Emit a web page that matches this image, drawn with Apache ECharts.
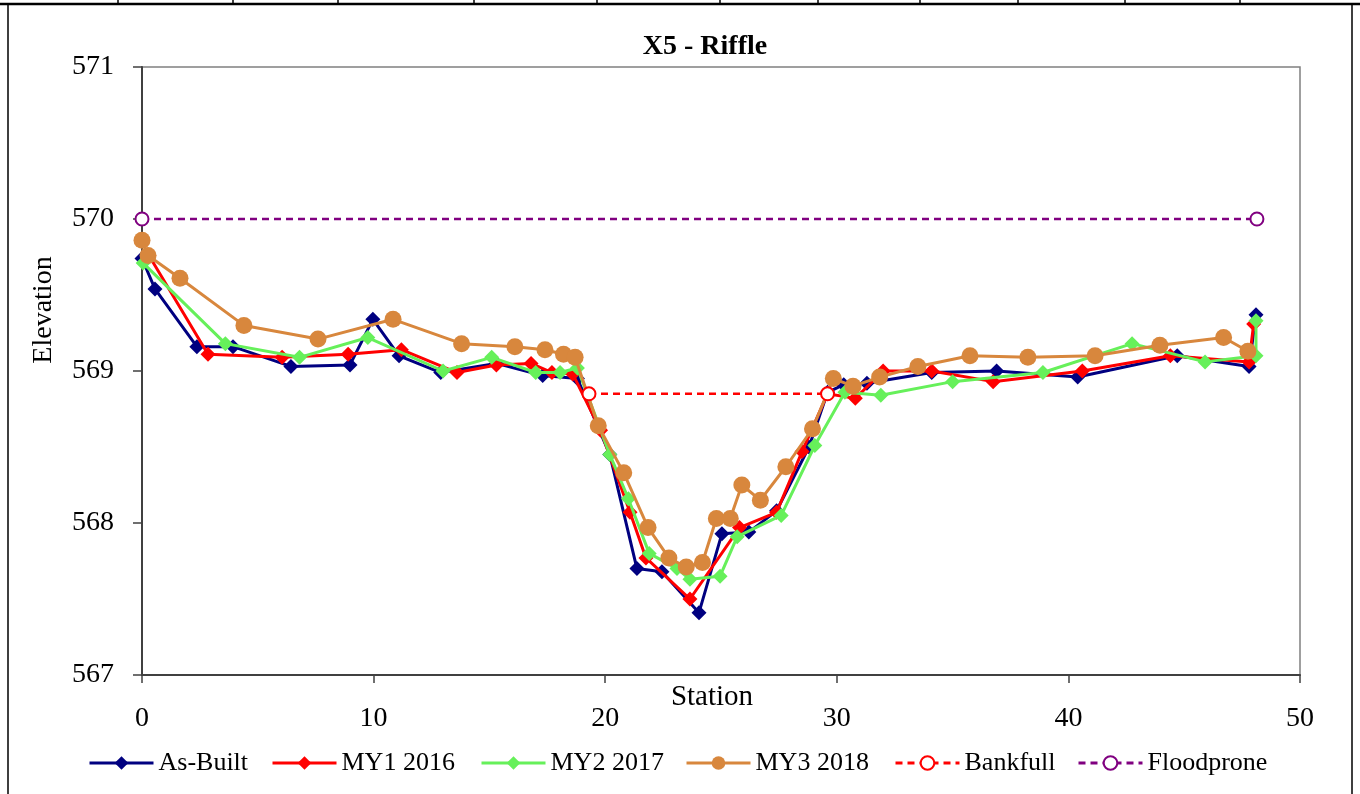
<!DOCTYPE html>
<html>
<head>
<meta charset="utf-8">
<title>X5 - Riffle</title>
<script src="https://cdn.jsdelivr.net/npm/echarts@6/dist/echarts.min.js"></script>
<style>
  html, body { margin: 0; padding: 0; background: #fff; }
  #chart { width: 1360px; height: 794px; }
</style>
</head>
<body>
<div id="chart"></div>
<script>
// cross section survey data (station / elevation)
var asBuiltStation = [0, 0.56, 2.37, 3.93, 6.43, 8.98, 9.97, 11.1, 12.9, 15.3, 17.3, 18.8, 20.2, 21.37, 22.45, 24.05, 25.04, 26.2, 27.4, 28.8, 29.6, 30.3, 31.3, 34.1, 36.9, 40.4, 44.7, 47.8, 48.1];
var asBuiltElev = [569.74, 569.54, 569.16, 569.16, 569.03, 569.04, 569.34, 569.1, 568.99, 569.05, 568.97, 568.95, 568.45, 567.70, 567.68, 567.41, 567.93, 567.94, 568.08, 568.5, 568.86, 568.91, 568.92, 568.99, 569.0, 568.96, 569.1, 569.03, 569.37];

var my1Station = [0.3, 2.85, 6.05, 8.9, 11.2, 13.6, 15.3, 16.8, 17.7, 18.6, 19.8, 21.07, 21.76, 23.66, 25.8, 27.4, 28.5, 29.6, 30.8, 32.0, 34.1, 36.75, 40.6, 44.4, 47.8, 48.0];
var my1Elev = [569.76, 569.11, 569.09, 569.11, 569.14, 568.99, 569.04, 569.05, 568.99, 568.98, 568.61, 568.07, 567.77, 567.50, 567.97, 568.07, 568.47, 568.85, 568.82, 569.0, 569.0, 568.93, 569.0, 569.1, 569.06, 569.31];

var my2Station = [0.05, 3.6, 6.8, 9.75, 13.0, 15.1, 17.0, 18.05, 18.8, 20.2, 21.0, 21.9, 23.1, 23.66, 24.96, 25.7, 27.6, 29.05, 30.35, 31.9, 35.0, 38.9, 42.75, 45.9, 48.1, 48.1];
var my2Elev = [569.71, 569.18, 569.09, 569.22, 569.0, 569.09, 568.99, 568.99, 569.02, 568.45, 568.16, 567.80, 567.70, 567.63, 567.65, 567.91, 568.05, 568.51, 568.86, 568.84, 568.93, 568.99, 569.18, 569.06, 569.1, 569.33];

var my3Station = [0, 0.26, 1.64, 4.4, 7.6, 10.84, 13.8, 16.1, 17.4, 18.2, 18.7, 19.7, 20.8, 21.85, 22.75, 23.5, 24.2, 24.8, 25.4, 25.9, 26.7, 27.8, 28.95, 29.85, 30.7, 31.85, 33.5, 35.75, 38.25, 41.15, 43.95, 46.7, 47.75];
var my3Elev = [569.86, 569.76, 569.61, 569.30, 569.21, 569.34, 569.18, 569.16, 569.14, 569.11, 569.09, 568.64, 568.33, 567.97, 567.77, 567.71, 567.74, 568.03, 568.03, 568.25, 568.15, 568.37, 568.62, 568.95, 568.9, 568.96, 569.03, 569.1, 569.09, 569.1, 569.17, 569.22, 569.13];

var bankfullStation = [19.3, 29.6];
var bankfullElev = [568.85, 568.85];

var floodproneStation = [0, 48.14];
var floodproneElev = [570, 570];

var seriesNames = ['As-Built', 'MY1 2016', 'MY2 2017', 'MY3 2018', 'Bankfull', 'Floodprone'];

function pairs(xs, ys) {
  return xs.map(function (x, i) { return [x, ys[i]]; });
}

var FONT = '"Liberation Serif", "DejaVu Serif", serif';

var chart = echarts.init(document.getElementById('chart'));

// legend spots, one per item (icon left edges)
var legendLeft = [83, 266, 475, 680, 889, 1072];
var legends = seriesNames.map(function (name, i) {
  return {
    data: [name],
    left: legendLeft[i],
    top: 745,
    itemWidth: 64,
    itemHeight: 17,
    itemGap: 0,
    lineStyle: { width: 3 },
    textStyle: { fontFamily: FONT, fontSize: 26, color: '#000' },
    selectedMode: false
  };
});

// spreadsheet cell marks along the top frame
var topMarks = [118, 233, 338, 474, 597, 720, 818, 920, 1018, 1125, 1240];
var frameGraphics = [
  { type: 'rect', shape: { x: 8, y: 4, width: 1344, height: 800 }, style: { fill: 'none', stroke: '#000', lineWidth: 1.5 }, silent: true },
  { type: 'line', shape: { x1: 0, y1: 4, x2: 1360, y2: 4 }, style: { stroke: '#000', lineWidth: 2.5 }, silent: true },
  {
    type: 'text', x: 44, y: 310, rotation: Math.PI / 2,
    style: { text: 'Elevation', fontFamily: FONT, fontSize: 28, fill: '#000', align: 'center', verticalAlign: 'middle' }
  },
  {
    type: 'text', x: 712, y: 697,
    style: { text: 'Station', fontFamily: FONT, fontSize: 29, fill: '#000', align: 'center', verticalAlign: 'middle' }
  }
];
topMarks.forEach(function (x) {
  frameGraphics.push({ type: 'line', shape: { x1: x, y1: 0, x2: x, y2: 5 }, style: { stroke: '#000', lineWidth: 1.5 }, silent: true });
});

var option = {
  animation: false,
  backgroundColor: '#fff',
  title: {
    text: 'X5 - Riffle',
    left: 700,
    top: 28,
    textAlign: 'center',
    textStyle: { fontFamily: FONT, fontSize: 28, fontWeight: 'bold', color: '#000' }
  },
  legend: legends,
  grid: {
    left: 142,
    right: 60,
    top: 67,
    bottom: 119,
    show: true,
    borderColor: '#808080',
    borderWidth: 1.5,
    backgroundColor: '#fff'
  },
  xAxis: {
    type: 'value',
    min: 0,
    max: 50,
    interval: 10,
    axisLine: { lineStyle: { color: '#404040', width: 2 } },
    axisTick: { show: true, inside: false, length: 8, lineStyle: { color: '#404040', width: 1.5 } },
    axisLabel: { fontFamily: FONT, fontSize: 28, color: '#000', margin: 30 },
    splitLine: { show: false }
  },
  yAxis: {
    type: 'value',
    min: 567,
    max: 571,
    interval: 1,
    axisLine: { show: true, lineStyle: { color: '#404040', width: 2 } },
    axisTick: { show: true, inside: false, length: 9, lineStyle: { color: '#404040', width: 1.5 } },
    axisLabel: { fontFamily: FONT, fontSize: 28, color: '#000', margin: 28 },
    splitLine: { show: false }
  },
  graphic: frameGraphics,
  series: [
    {
      name: 'As-Built', type: 'line', data: pairs(asBuiltStation, asBuiltElev),
      symbol: 'diamond', symbolSize: 15, z: 2,
      itemStyle: { color: '#000080' },
      lineStyle: { color: '#000080', width: 3 }
    },
    {
      name: 'MY1 2016', type: 'line', data: pairs(my1Station, my1Elev),
      symbol: 'diamond', symbolSize: 15, z: 3,
      itemStyle: { color: '#ff0000' },
      lineStyle: { color: '#ff0000', width: 3 }
    },
    {
      name: 'MY2 2017', type: 'line', data: pairs(my2Station, my2Elev),
      symbol: 'diamond', symbolSize: 15, z: 4,
      itemStyle: { color: '#66f05a' },
      lineStyle: { color: '#66f05a', width: 3 }
    },
    {
      name: 'MY3 2018', type: 'line', data: pairs(my3Station, my3Elev),
      symbol: 'circle', symbolSize: 17, z: 5,
      itemStyle: { color: '#d8873d' },
      lineStyle: { color: '#d8873d', width: 3 }
    },
    {
      name: 'Bankfull', type: 'line', data: pairs(bankfullStation, bankfullElev),
      symbol: 'emptyCircle', symbolSize: 13, z: 6,
      itemStyle: { color: '#ff0000', borderColor: '#ff0000', borderWidth: 1.5 },
      lineStyle: { color: '#ff0000', width: 2.5, type: [7, 5] }
    },
    {
      name: 'Floodprone', type: 'line', data: pairs(floodproneStation, floodproneElev),
      symbol: 'emptyCircle', symbolSize: 13, z: 6,
      itemStyle: { color: '#800080', borderColor: '#800080', borderWidth: 1.5 },
      lineStyle: { color: '#800080', width: 2.5, type: [7, 5] }
    }
  ]
};

chart.setOption(option);
</script>
</body>
</html>
